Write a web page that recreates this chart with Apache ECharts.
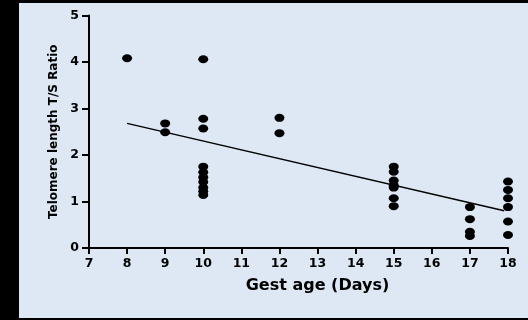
<!DOCTYPE html>
<html>
<head>
<meta charset="utf-8">
<script src="https://cdn.jsdelivr.net/npm/echarts@6/dist/echarts.min.js"></script>
<style>
  body { margin: 0; background: #000; }
  #wrap { position: relative; width: 528px; height: 320px; background: #000; }
  #main { position: absolute; left: 19px; top: 3px; width: 509px; height: 315px; background: #dde8f4; }
</style>
</head>
<body>
<div id="wrap"><div id="main"></div></div>
<script>
// gestational age (days) and T/S ratio for each sample
const ageDays = [8, 9, 9, 10, 10, 10, 10, 10, 10, 10, 10, 10, 10, 12, 12,
  15, 15, 15, 15, 15, 15, 15, 17, 17, 17, 17, 18, 18, 18, 18, 18, 18]
const tsRatio = [4.08, 2.68, 2.49, 4.06, 2.78, 2.57, 1.75, 1.63, 1.52, 1.42, 1.3, 1.22, 1.14, 2.8, 2.47,
  1.75, 1.64, 1.45, 1.35, 1.3, 1.07, 0.9, 0.88, 0.62, 0.35, 0.26, 1.43, 1.25, 1.07, 0.88, 0.57, 0.28]
// regression line end points
const fitX = [8, 17.9]
const fitY = [2.68, 0.8]

const points = ageDays.map((d, i) => [d, tsRatio[i]])
const fitLine = fitX.map((d, i) => [d, fitY[i]])

const chart = echarts.init(document.getElementById('main'), null, { renderer: 'canvas' })
const tickFont = { color: '#000', fontFamily: 'DejaVu Sans', fontWeight: 'bold', fontSize: 12.5 }
const titleFont = { color: '#000', fontFamily: 'DejaVu Sans', fontWeight: 'bold' }

chart.setOption({
  animation: false,
  grid: { left: 70, right: 20, top: 12.5, bottom: 70 },
  xAxis: {
    type: 'value',
    min: 7,
    max: 18,
    interval: 1,
    name: 'Gest age (Days)',
    nameLocation: 'middle',
    nameGap: 30,
    nameTextStyle: { ...titleFont, fontSize: 16, padding: [0, 0, 0, 38] },
    axisLine: { onZero: false, lineStyle: { color: '#000', width: 2 } },
    axisTick: { length: 6, lineStyle: { color: '#000', width: 2 } },
    axisLabel: { ...tickFont, margin: 9 },
    splitLine: { show: false }
  },
  yAxis: {
    type: 'value',
    min: 0,
    max: 5,
    interval: 1,
    name: 'Telomere length T/S Ratio',
    nameLocation: 'middle',
    nameGap: 29,
    nameTextStyle: { ...titleFont, fontSize: 12 },
    axisLine: { show: true, onZero: false, lineStyle: { color: '#000', width: 2 } },
    axisTick: { show: true, length: 7, lineStyle: { color: '#000', width: 2 } },
    axisLabel: { ...tickFont, margin: 10 },
    splitLine: { show: false }
  },
  series: [
    {
      type: 'line',
      data: fitLine,
      symbol: 'none',
      lineStyle: { color: '#000', width: 1.5 },
      z: 2
    },
    {
      type: 'scatter',
      data: points,
      symbol: 'circle',
      symbolSize: [10, 8],
      itemStyle: { color: '#000', opacity: 1 },
      z: 3
    }
  ]
})
</script>
</body>
</html>
